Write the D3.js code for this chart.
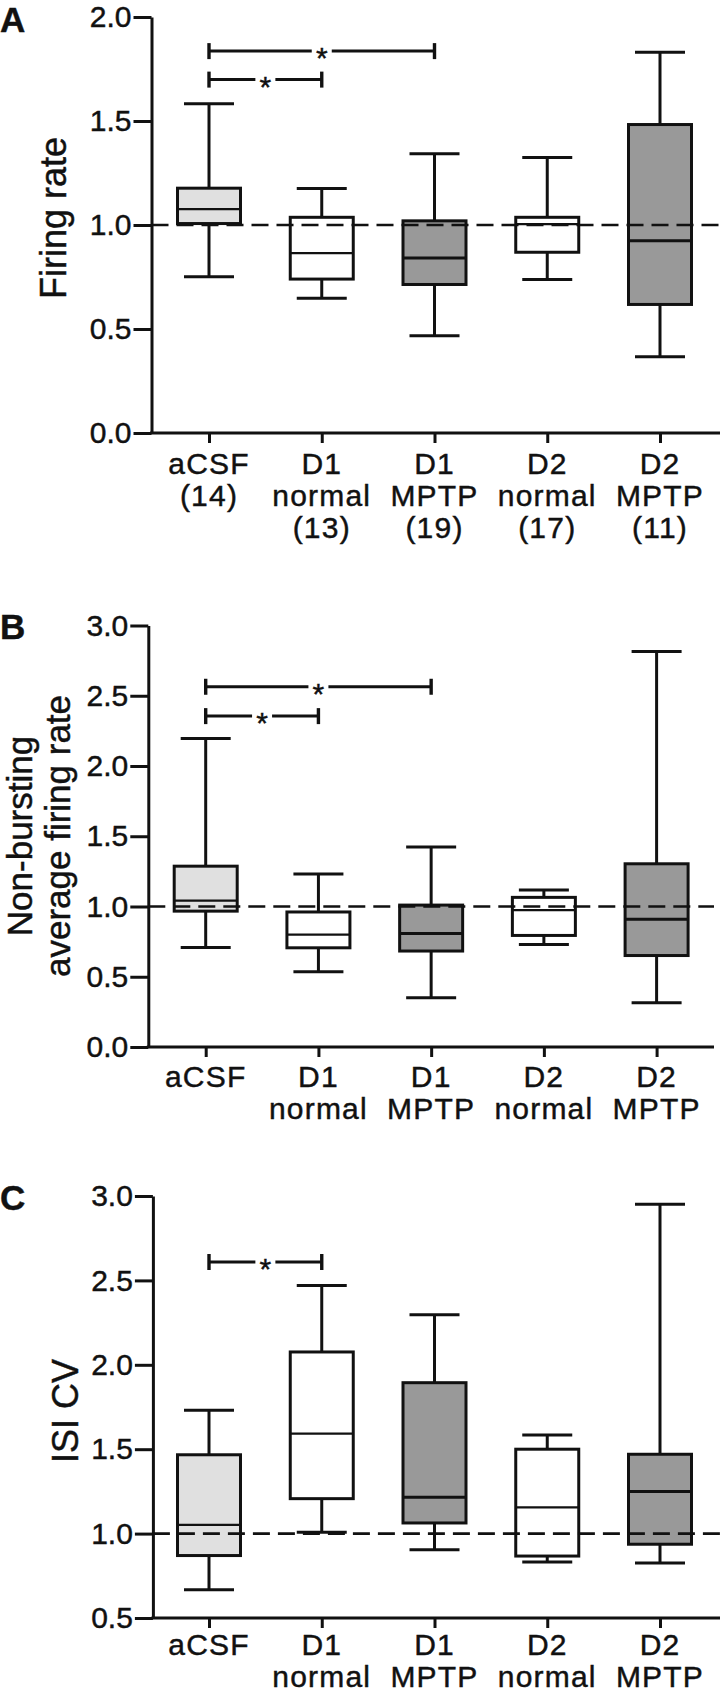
<!DOCTYPE html>
<html><head><meta charset="utf-8">
<script src="https://cdn.jsdelivr.net/npm/d3@7"></script>
<style>
html,body{margin:0;padding:0;background:#fff;}
svg text{font-family:"Liberation Sans",Arial,Helvetica,sans-serif;fill:#111;stroke:#111;stroke-width:0.45px;}
</style></head>
<body>
<svg id="fig" width="720" height="1694"></svg>
<script>
// ---- data ----
const categories = ["aCSF", "D1 normal", "D1 MPTP", "D2 normal", "D2 MPTP"];
const fills = ["#e0e0e0", "#ffffff", "#999999", "#ffffff", "#999999"];
const labelsA = [["aCSF","(14)"],["D1","normal","(13)"],["D1","MPTP","(19)"],["D2","normal","(17)"],["D2","MPTP","(11)"]];
const labelsBC = [["aCSF"],["D1","normal"],["D1","MPTP"],["D2","normal"],["D2","MPTP"]];

// Panel A: Firing rate
const aLow  = [0.751, 0.648, 0.467, 0.738, 0.367];
const aQ1   = [1.007, 0.740, 0.714, 0.869, 0.618];
const aMed  = [1.076, 0.865, 0.841, 1.004, 0.924];
const aQ3   = [1.177, 1.037, 1.020, 1.037, 1.483];
const aHigh = [1.583, 1.175, 1.343, 1.325, 1.830];
const aSig  = [[0, 2, 1.836], [0, 1, 1.699]];
const aTicks = [0, 0.5, 1.0, 1.5, 2.0];

// Panel B: Non-bursting average firing rate
const bLow  = [0.709, 0.536, 0.350, 0.729, 0.315];
const bQ1   = [0.967, 0.706, 0.683, 0.794, 0.651];
const bMed  = [1.042, 0.800, 0.807, 0.974, 0.909];
const bQ3   = [1.287, 0.961, 1.010, 1.065, 1.304];
const bHigh = [2.195, 1.232, 1.424, 1.118, 2.815];
const bSig  = [[0, 2, 2.564], [0, 1, 2.355]];
const bTicks = [0, 0.5, 1.0, 1.5, 2.0, 2.5, 3.0];

// Panel C: ISI CV
const cLow  = [0.668, 1.008, 0.905, 0.832, 0.826];
const cQ1   = [0.870, 1.207, 1.063, 0.867, 0.937];
const cMed  = [1.052, 1.592, 1.215, 1.155, 1.250];
const cQ3   = [1.467, 2.076, 1.894, 1.500, 1.470];
const cHigh = [1.731, 2.470, 2.296, 1.584, 2.951];
const cSig  = [[0, 1, 2.609]];
const cTicks = [0.5, 1.0, 1.5, 2.0, 2.5, 3.0];

const svg = d3.select("#fig");
const INK = "#111";
const SW = 3;

function panel(cfg) {
  const g = svg.append("g");
  const y = d3.scaleLinear().domain(cfg.ydom).range([cfg.y0, cfg.y1]);
  const x = d3.scalePoint().domain(categories).range([cfg.xa, cfg.xb]);
  const ax = cfg.axisX;
  const boxHalf = 31.5, capHalf = 25;

  // y axis
  const yAxis = d3.axisLeft(y).tickValues(cfg.ticks).tickFormat(d3.format(".1f"))
    .tickSize(18).tickPadding(2).tickSizeOuter(0);
  const ya = g.append("g").attr("transform", `translate(${ax},0)`).call(yAxis);
  ya.select(".domain").attr("stroke", INK).attr("stroke-width", SW);
  ya.selectAll(".tick line").attr("stroke", INK).attr("stroke-width", SW);
  ya.selectAll(".tick text").attr("font-size", 30).attr("fill", INK)
    .style("font-family", '"Liberation Sans",Arial,sans-serif');

  // x axis
  const xAxis = d3.axisBottom(x).tickSize(10).tickFormat("").tickSizeOuter(0);
  const xa = g.append("g").attr("transform", `translate(0,${cfg.y0})`).call(xAxis);
  xa.select(".domain").remove();
  xa.selectAll(".tick line").attr("stroke", INK).attr("stroke-width", SW);
  g.append("line").attr("x1", ax - SW / 2).attr("x2", cfg.xEnd)
    .attr("y1", cfg.y0).attr("y2", cfg.y0).attr("stroke", INK).attr("stroke-width", SW);

  // category labels
  categories.forEach((c, i) => {
    const t = g.append("text").attr("text-anchor", "middle").attr("font-size", 30)
      .attr("letter-spacing", 1.2);
    cfg.labels[i].forEach((ln, j) => {
      t.append("tspan").attr("x", x(c)).attr("y", cfg.labelY + j * 32).text(ln);
    });
  });

  // boxes
  categories.forEach((c, i) => {
    const cx = x(c);
    g.append("line").attr("x1", cx).attr("x2", cx).attr("y1", y(cfg.hi[i])).attr("y2", y(cfg.q3[i]))
      .attr("stroke", INK).attr("stroke-width", SW);
    g.append("line").attr("x1", cx).attr("x2", cx).attr("y1", y(cfg.q1[i])).attr("y2", y(cfg.lo[i]))
      .attr("stroke", INK).attr("stroke-width", SW);
    g.append("line").attr("x1", cx - capHalf).attr("x2", cx + capHalf).attr("y1", y(cfg.hi[i])).attr("y2", y(cfg.hi[i]))
      .attr("stroke", INK).attr("stroke-width", SW);
    g.append("line").attr("x1", cx - capHalf).attr("x2", cx + capHalf).attr("y1", y(cfg.lo[i])).attr("y2", y(cfg.lo[i]))
      .attr("stroke", INK).attr("stroke-width", SW);
    g.append("rect").attr("x", cx - boxHalf).attr("width", boxHalf * 2)
      .attr("y", y(cfg.q3[i])).attr("height", y(cfg.q1[i]) - y(cfg.q3[i]))
      .attr("fill", fills[i]).attr("stroke", INK).attr("stroke-width", SW);
    g.append("line").attr("x1", cx - boxHalf).attr("x2", cx + boxHalf).attr("y1", y(cfg.med[i])).attr("y2", y(cfg.med[i]))
      .attr("stroke", INK).attr("stroke-width", fills[i] === "#999999" ? SW : 2.3);
  });

  // dashed reference line at 1.0
  g.append("line").attr("x1", ax).attr("x2", cfg.xEnd).attr("y1", y(1)).attr("y2", y(1))
    .attr("stroke", INK).attr("stroke-width", 2.6).attr("stroke-dasharray", "17,8");

  // significance brackets
  cfg.sig.forEach(([a, b, v]) => {
    const x1 = x(categories[a]), x2 = x(categories[b]), yy = y(v), mid = (x1 + x2) / 2;
    g.append("line").attr("x1", x1).attr("x2", mid - 10).attr("y1", yy).attr("y2", yy).attr("stroke", INK).attr("stroke-width", SW);
    g.append("line").attr("x1", mid + 10).attr("x2", x2).attr("y1", yy).attr("y2", yy).attr("stroke", INK).attr("stroke-width", SW);
    [x1, x2].forEach(xx => g.append("line").attr("x1", xx).attr("x2", xx).attr("y1", yy - 8).attr("y2", yy + 8)
      .attr("stroke", INK).attr("stroke-width", 3.4));
    g.append("text").attr("x", mid).attr("y", yy + 17).attr("text-anchor", "middle").attr("font-size", 30).text("*");
  });

  // y label
  const yl = g.append("text").attr("text-anchor", "middle").attr("font-size", cfg.ylFont)
    .attr("transform", `translate(0,${cfg.ylY}) rotate(-90)`);
  cfg.ylabel.forEach((ln, j) => {
    yl.append("tspan").attr("x", 0).attr("y", cfg.ylX[j]).text(ln);
  });

  // panel letter
  g.append("text").attr("x", 0).attr("y", cfg.letterY).attr("font-size", 35).attr("font-weight", "bold")
    .text(cfg.letter);
}

panel({letter: "A", letterY: 32, ydom: [0, 2], y0: 433, y1: 17, xa: 209, xb: 660, axisX: 151.5, xEnd: 720,
  ticks: aTicks, lo: aLow, q1: aQ1, med: aMed, q3: aQ3, hi: aHigh, sig: aSig,
  labels: labelsA, labelY: 474, ylabel: ["Firing rate"], ylX: [66], ylY: 218, ylFont: 36});
panel({letter: "B", letterY: 639, ydom: [0, 3], y0: 1047, y1: 625.5, xa: 205.7, xb: 656.6, axisX: 148.3, xEnd: 714,
  ticks: bTicks, lo: bLow, q1: bQ1, med: bMed, q3: bQ3, hi: bHigh, sig: bSig,
  labels: labelsBC, labelY: 1087, ylabel: ["Non-bursting", "average firing rate"], ylX: [32, 70], ylY: 836, ylFont: 35});
panel({letter: "C", letterY: 1210, ydom: [0.5, 3], y0: 1618, y1: 1196, xa: 209, xb: 660, axisX: 152.9, xEnd: 720,
  ticks: cTicks, lo: cLow, q1: cQ1, med: cMed, q3: cQ3, hi: cHigh, sig: cSig,
  labels: labelsBC, labelY: 1655, ylabel: ["ISI CV"], ylX: [78], ylY: 1411, ylFont: 36});
</script>
</body></html>
